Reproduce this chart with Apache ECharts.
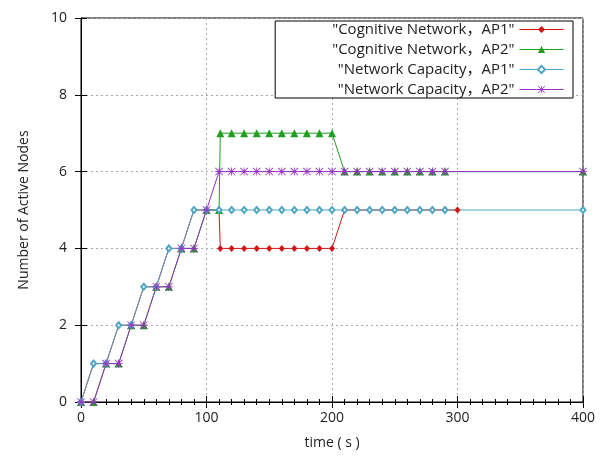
<!DOCTYPE html>
<html>
<head>
<meta charset="utf-8">
<script src="https://cdn.jsdelivr.net/npm/echarts@6/dist/echarts.min.js"></script>
<style>
  html, body { margin: 0; padding: 0; background: #fff; }
  #chart { width: 610px; height: 457px; }
</style>
</head>
<body>
<div id="chart"></div>
<script>
// ---- data ----
const seriesNames = [
  '"Cognitive Network，AP1"',
  '"Cognitive Network，AP2"',
  '"Network Capacity，AP1"',
  '"Network Capacity，AP2"'
];

const cogAP1_t = [0,10,20,30,40,50,60,70,80,90,100,110,111,120,130,140,150,160,170,180,190,200,210,220,230,240,250,260,270,280,290,300];
const cogAP1_v = [0,1,1,2,2,3,3,4,4,5,5,5,4,4,4,4,4,4,4,4,4,4,5,5,5,5,5,5,5,5,5,5];

const cogAP2_t = [0,10,20,30,40,50,60,70,80,90,100,110,111,120,130,140,150,160,170,180,190,200,210,220,230,240,250,260,270,280,290,400];
const cogAP2_v = [0,0,1,1,2,2,3,3,4,4,5,5,7,7,7,7,7,7,7,7,7,7,6,6,6,6,6,6,6,6,6,6];

const capAP1_t = [0,10,20,30,40,50,60,70,80,90,100,110,120,130,140,150,160,170,180,190,200,210,220,230,240,250,260,270,280,290,400];
const capAP1_v = [0,1,1,2,2,3,3,4,4,5,5,5,5,5,5,5,5,5,5,5,5,5,5,5,5,5,5,5,5,5,5];

const capAP2_t = [0,10,20,30,40,50,60,70,80,90,100,110,120,130,140,150,160,170,180,190,200,210,220,230,240,250,260,270,280,290,400];
const capAP2_v = [0,0,1,1,2,2,3,3,4,4,5,6,6,6,6,6,6,6,6,6,6,6,6,6,6,6,6,6,6,6,6];

const xTicks = [0, 100, 200, 300, 400];
const yTicks = [0, 2, 4, 6, 8, 10];

// ---- helpers ----
function zip(ts, vs) { return ts.map((t, i) => [t, vs[i]]); }

const FONT = '"Open Sans", "Noto Sans", "Noto Sans CJK SC", sans-serif';
const STAR = 'path://M0 4.5H10V5.5H0Z M4.5 0H5.5V10H4.5Z M0 0.7L0.7 0L10 9.3L9.3 10Z M9.3 0L10 0.7L0.7 10L0 9.3Z';

const colors = ['#d41414', '#1f9e1f', '#4ea6c6', '#9a2fc4'];

function lineSeries(name, data, color, symbol, size) {
  return {
    name: name,
    type: 'line',
    data: data,
    symbol: symbol,
    symbolSize: size,
    showSymbol: true,
    showAllSymbol: true,
    color: color,
    lineStyle: { color: color, width: 1 },
    itemStyle: { color: color, borderWidth: 1 },
    emphasis: { disabled: true },
    animation: false
  };
}

const chart = echarts.init(document.getElementById('chart'), null, { renderer: 'canvas' });

const axisCommon = {
  type: 'value',
  axisLine: { show: true, lineStyle: { color: '#000', width: 1 } },
  axisTick: { show: true, inside: true, length: 6, lineStyle: { color: '#000' } },
  axisLabel: { color: '#222', fontSize: 14, fontFamily: FONT },
  splitLine: { show: true, lineStyle: { color: '#aaa', type: [2, 3], width: 1 } }
};

chart.setOption({
  animation: false,
  backgroundColor: '#fff',
  textStyle: { fontFamily: FONT },
  grid: {
    left: 81, right: 27, top: 18, bottom: 55,
    show: true, borderColor: '#000', borderWidth: 1, backgroundColor: 'transparent'
  },
  legend: {
    data: seriesNames.map((n, i) => ({ name: n, lineStyle: { color: colors[i], width: 1 } })),
    orient: 'vertical',
    align: 'right',
    right: 37,
    top: 21,
    padding: [1, 9, 1, 57],
    itemGap: 5,
    itemWidth: 44,
    itemHeight: 9,
    borderColor: '#000',
    borderWidth: 1,
    backgroundColor: '#fff',
    textStyle: { color: '#222', fontSize: 15, fontFamily: FONT, lineHeight: 15 },
    selectedMode: false
  },
  xAxis: [
    Object.assign({}, axisCommon, {
      min: xTicks[0], max: xTicks[xTicks.length - 1], interval: 100,
      position: 'bottom',
      minorTick: { show: true, splitNumber: 10, length: 3, lineStyle: { color: '#000' } },
      axisLabel: Object.assign({}, axisCommon.axisLabel, { margin: 9 }),
      name: 'time ( s )',
      nameLocation: 'middle',
      nameGap: 34,
      nameTextStyle: { color: '#222', fontSize: 14, fontFamily: FONT }
    }),
    {
      type: 'value', min: 0, max: 400, interval: 100, position: 'top',
      axisLine: { show: true, lineStyle: { color: '#000' } },
      axisTick: { show: true, inside: true, length: 6, lineStyle: { color: '#000' } },
      minorTick: { show: true, splitNumber: 10, length: 3, lineStyle: { color: '#000' } },
      axisLabel: { show: false },
      splitLine: { show: false }
    }
  ],
  yAxis: [
    Object.assign({}, axisCommon, {
      min: yTicks[0], max: yTicks[yTicks.length - 1], interval: 2,
      position: 'left',
      axisLabel: Object.assign({}, axisCommon.axisLabel, { margin: 14 }),
      name: 'Number of Active Nodes',
      nameLocation: 'middle',
      nameGap: 50,
      nameTextStyle: { color: '#222', fontSize: 14, fontFamily: FONT }
    }),
    {
      type: 'value', min: 0, max: 10, interval: 2, position: 'right',
      axisLine: { show: true, lineStyle: { color: '#000' } },
      axisTick: { show: true, inside: true, length: 6, lineStyle: { color: '#000' } },
      axisLabel: { show: false },
      splitLine: { show: false }
    }
  ],
  series: [
    lineSeries(seriesNames[0], zip(cogAP1_t, cogAP1_v), colors[0], 'diamond', [6, 7]),
    lineSeries(seriesNames[1], zip(cogAP2_t, cogAP2_v), colors[1], 'triangle', 8),
    lineSeries(seriesNames[2], zip(capAP1_t, capAP1_v), colors[2], 'emptyDiamond', [5, 6]),
    lineSeries(seriesNames[3], zip(capAP2_t, capAP2_v), colors[3], STAR, 8)
  ]
});
</script>
</body>
</html>
